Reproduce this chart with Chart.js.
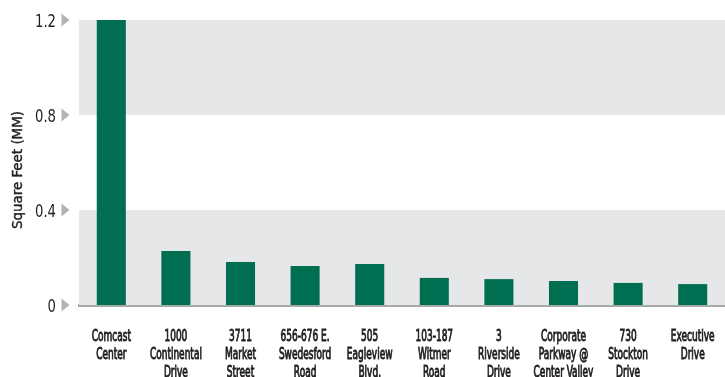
<!DOCTYPE html>
<html>
<head>
<meta charset="utf-8">
<script src="https://cdn.jsdelivr.net/npm/chart.js@4/dist/chart.umd.min.js"></script>
<style>
  html, body { margin: 0; padding: 0; background: #fff; }
  #wrap { width: 725px; height: 377px; }
</style>
</head>
<body>
<div id="wrap"><canvas id="sqft_chart"></canvas></div>
<script>
var properties = [
  ['Comcast', 'Center'],
  ['1000', 'Continental', 'Drive'],
  ['3711', 'Market', 'Street'],
  ['656-676 E.', 'Swedesford', 'Road'],
  ['505', 'Eagleview', 'Blvd.'],
  ['103-187', 'Witmer', 'Road'],
  ['3', 'Riverside', 'Drive'],
  ['Corporate', 'Parkway @', 'Center Valley'],
  ['730', 'Stockton', 'Drive'],
  ['Executive', 'Drive']
];
var square_feet = [1.2, 0.227, 0.181, 0.164, 0.173, 0.114, 0.109, 0.101, 0.093, 0.088];
var y_ticks = [0, 0.4, 0.8, 1.2];
var shaded_bands = [[0, 0.4], [0.8, 1.2]];
var y_title = 'Square Feet (MM)';

var labelFont = "'DejaVu Sans Condensed', 'DejaVu Sans', sans-serif";
var textColour = '#231f20';

// the original uses a condensed face, so squeeze text to the widths seen there
function squeezeFor(ctx, font, sample, target) {
  ctx.font = font;
  return target / ctx.measureText(sample).width;
}

function narrowText(ctx, txt, x, y, font, squeeze, align, stroke) {
  ctx.save();
  ctx.font = font;
  ctx.textBaseline = 'alphabetic';
  ctx.textAlign = 'left';
  var w = ctx.measureText(txt).width * squeeze;
  var left = x;
  if (align === 'center') left = x - w / 2;
  if (align === 'right') left = x - w;
  ctx.translate(left, y);
  ctx.scale(squeeze, 1);
  ctx.fillText(txt, 0, 0);
  if (stroke) {
    ctx.lineWidth = stroke;
    ctx.strokeStyle = ctx.fillStyle;
    ctx.strokeText(txt, 0, 0);
  }
  ctx.restore();
}

// grey bands behind the bars
var bandsPlugin = {
  id: 'bands',
  beforeDatasetsDraw: function(chart) {
    var ctx = chart.ctx;
    var area = chart.chartArea;
    var y = chart.scales.y;
    ctx.save();
    ctx.fillStyle = '#e6e7e8';
    shaded_bands.forEach(function(b) {
      var top = y.getPixelForValue(b[1]);
      var bottom = y.getPixelForValue(b[0]);
      ctx.fillRect(area.left, top, area.right - area.left, bottom - top);
    });
    ctx.restore();
  }
};

// axis labels, arrows and the y title
var labelsPlugin = {
  id: 'labels',
  afterDraw: function(chart) {
    var ctx = chart.ctx;
    var x = chart.scales.x;
    var y = chart.scales.y;
    ctx.save();

    var yFont = '18px ' + labelFont;
    var ySq = squeezeFor(ctx, yFont, '0.4', 21);
    ctx.fillStyle = textColour;
    y_ticks.forEach(function(t) {
      var py = y.getPixelForValue(t);
      narrowText(ctx, String(t), 56, py + 6.5, yFont, ySq, 'right');
    });

    ctx.fillStyle = '#b1b3b6';
    y_ticks.forEach(function(t) {
      var py = y.getPixelForValue(t);
      ctx.beginPath();
      ctx.moveTo(61.5, py - 6.5);
      ctx.lineTo(69.5, py);
      ctx.lineTo(61.5, py + 6.5);
      ctx.closePath();
      ctx.fill();
    });

    var xFont = '16px ' + labelFont;
    var xSq = squeezeFor(ctx, xFont, 'Continental', 52);
    ctx.fillStyle = textColour;
    properties.forEach(function(lines, i) {
      var px = x.getPixelForTick(i);
      lines.forEach(function(line, j) {
        narrowText(ctx, line, px, 341 + j * 17.8, xFont, xSq, 'center', 0.9);
      });
    });

    var tFont = '14px ' + labelFont;
    var tSq = squeezeFor(ctx, tFont, y_title, 118);
    ctx.save();
    ctx.translate(22, 170);
    ctx.rotate(-Math.PI / 2);
    ctx.fillStyle = textColour;
    narrowText(ctx, y_title, 0, 0, tFont, tSq, 'center', 0.4);
    ctx.restore();

    ctx.restore();
  }
};

var myChart = document.getElementById('sqft_chart');

var barChart = new Chart(myChart, {
  type: 'bar',
  data: {
    labels: properties,
    datasets: [{
      label: y_title,
      data: square_feet,
      backgroundColor: '#006f51',
      borderWidth: 0,
      barPercentage: 0.45,
      categoryPercentage: 1
    }]
  },
  options: {
    responsive: true,
    maintainAspectRatio: false,
    animation: false,
    layout: {
      padding: { top: 20, right: 0, bottom: 0, left: 0 }
    },
    plugins: {
      legend: { display: false },
      tooltip: { enabled: false }
    },
    scales: {
      x: {
        grid: { display: false, drawTicks: false },
        border: { display: true, color: '#a7a9ac', width: 3 },
        ticks: { display: false },
        afterFit: function(scale) { scale.height = 72; }
      },
      y: {
        min: 0,
        max: 1.2,
        grid: { display: false, drawTicks: false },
        border: { display: false },
        ticks: { display: false, stepSize: 0.4 },
        afterFit: function(scale) { scale.width = 79; }
      }
    }
  },
  plugins: [bandsPlugin, labelsPlugin]
});
</script>
</body>
</html>
